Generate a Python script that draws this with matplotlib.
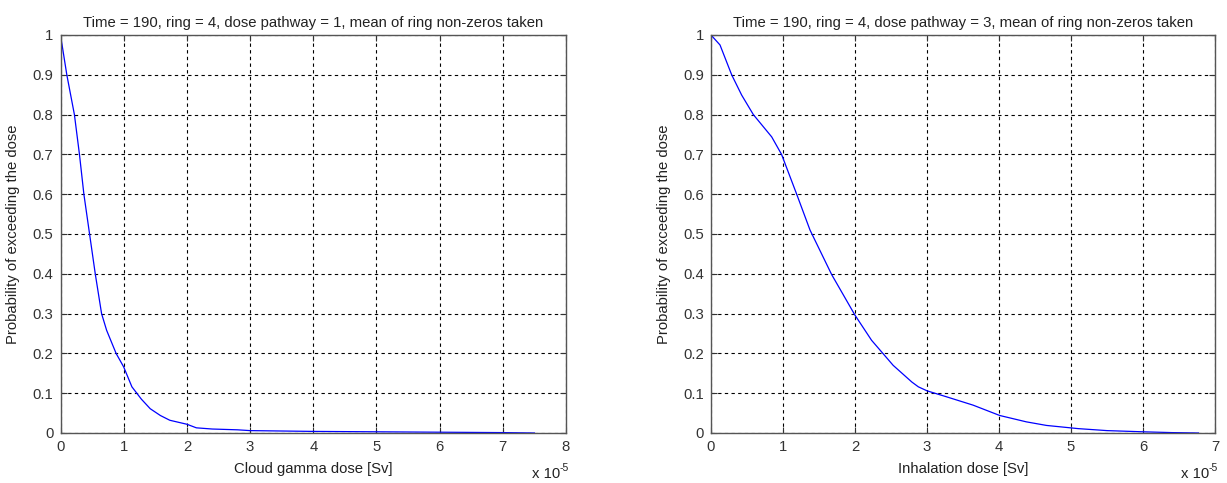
import matplotlib
matplotlib.use("Agg")
import matplotlib.pyplot as plt

plt.rcParams['font.family'] = ['Liberation Sans', 'DejaVu Sans']

# Left: cloud gamma dose (units of 1e-5 Sv)
gamma_dose = [0.0, 0.05, 0.10, 0.16, 0.22, 0.30, 0.37, 0.46, 0.55, 0.65, 0.73, 0.88, 1.0, 1.13,
              1.28, 1.42, 1.58, 1.73, 2.0, 2.15, 2.4, 2.8, 3.0, 4.0, 5.0, 6.0, 7.0, 7.5]
gamma_prob = [1.0, 0.95, 0.9, 0.85, 0.8, 0.7, 0.6, 0.5, 0.4, 0.3, 0.258, 0.2, 0.166, 0.116,
              0.085, 0.061, 0.044, 0.032, 0.022, 0.013, 0.010, 0.008, 0.006, 0.004, 0.003,
              0.002, 0.001, 0.0]

# Right: inhalation dose (units of 1e-5 Sv)
inh_dose = [0.0, 0.125, 0.287, 0.426, 0.588, 0.843, 0.98, 1.19, 1.375, 1.676, 2.0, 2.23,
            2.53, 2.79, 2.88, 3.0, 3.27, 3.64, 4.01, 4.38, 4.66, 4.99, 5.1, 5.5, 6.0, 6.4, 6.77]
inh_prob = [1.0, 0.975, 0.9, 0.849, 0.8, 0.744, 0.7, 0.6, 0.51, 0.398, 0.296, 0.233,
            0.170, 0.128, 0.116, 0.106, 0.091, 0.070, 0.044, 0.028, 0.019, 0.013, 0.011,
            0.006, 0.003, 0.001, 0.0]

titles = ["Time = 190, ring = 4, dose pathway = 1, mean of ring non-zeros taken",
          "Time = 190, ring = 4, dose pathway = 3, mean of ring non-zeros taken"]
xlabels = ["Cloud gamma dose [Sv]", "Inhalation dose [Sv]"]
ylabel = "Probability of exceeding the dose"
xmax = [8, 7]
yticks = [0, 0.1, 0.2, 0.3, 0.4, 0.5, 0.6, 0.7, 0.8, 0.9, 1]
ytick_labels = ["0", "0.1", "0.2", "0.3", "0.4", "0.5", "0.6", "0.7", "0.8", "0.9", "1"]

fs = 10.7
fig = plt.figure(figsize=(12.27, 4.83), dpi=100)
rects = [[60.5/1227, 1-433/483, 505.5/1227, 398/483],
         [711/1227, 1-433/483, 504/1227, 398/483]]
series = [(gamma_dose, gamma_prob), (inh_dose, inh_prob)]
tc = '#333333'
for i in range(2):
    ax = fig.add_axes(rects[i])
    xs, ys = series[i]
    ax.plot(xs, ys, color='#0000ff', lw=0.9)
    ax.set_xlim(0, xmax[i])
    ax.set_ylim(0, 1)
    ax.set_xticks(list(range(xmax[i] + 1)))
    ax.set_xticklabels([str(v) for v in range(xmax[i] + 1)])
    ax.set_yticks(yticks)
    ax.set_yticklabels(ytick_labels)
    ax.grid(True, color='black', linestyle=(0, (3, 3)), linewidth=0.8)
    ax.tick_params(direction='in', top=True, right=True, labelsize=fs, colors=tc,
                   length=4, pad=5)
    for s in ax.spines.values():
        s.set_color('#555555')
        s.set_linewidth(1.0)
    ax.set_title(titles[i], fontsize=fs, color='#222222', pad=6)
    ax.set_xlabel(xlabels[i], fontsize=fs, color='#222222', labelpad=6)
    ax.set_ylabel(ylabel, fontsize=fs, color='#222222', labelpad=9)
    ax.text(0.988, -0.085, "x 10", transform=ax.transAxes, ha='right',
            va='top', fontsize=fs, color='#222222')
    ax.text(0.988, -0.075, "-5", transform=ax.transAxes, ha='left',
            va='top', fontsize=fs * 0.7, color='#222222')

fig.savefig("out.png", dpi=100)
